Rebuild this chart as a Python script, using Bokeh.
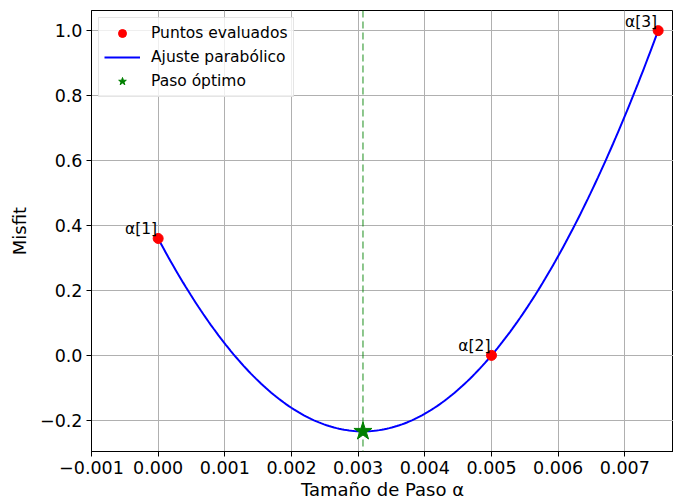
import numpy as np
from bokeh.plotting import figure
from bokeh.models import (ColumnDataSource, FixedTicker, Span, Legend, LegendItem, Label)
from bokeh.embed import file_html
from bokeh.resources import INLINE

# ---- data ----
alpha_pts = [0.0, 0.005, 0.0075]
misfit_pts = [0.36, 0.0, 1.0]
point_labels = ["α[1]", "α[2]", "α[3]"]

x_ticks = [-0.001, 0.0, 0.001, 0.002, 0.003, 0.004, 0.005, 0.006, 0.007]
x_tick_labels = ["−0.001", "0.000", "0.001", "0.002", "0.003", "0.004", "0.005", "0.006", "0.007"]
y_ticks = [-0.2, 0.0, 0.2, 0.4, 0.6, 0.8, 1.0]
y_tick_labels = ["−0.2", "0.0", "0.2", "0.4", "0.6", "0.8", "1.0"]

# parabolic fit through the evaluated points
coef = np.polyfit(alpha_pts, misfit_pts, 2)
xs = np.linspace(min(alpha_pts), max(alpha_pts), 200)
ys = np.polyval(coef, xs)
x_opt = -coef[1] / (2 * coef[0])
y_opt = np.polyval(coef, x_opt)

FONT = "DejaVu Sans"

p = figure(width=673, height=502, output_backend="svg", toolbar_location=None,
           x_range=(-0.001, 0.00773), y_range=(-0.296, 1.062),
           min_border_left=91, min_border_right=0, min_border_top=10, min_border_bottom=50)
p.background_fill_color = "white"
p.border_fill_color = "white"
p.outline_line_color = "black"
p.outline_line_width = 1

for ax in (p.xaxis[0], p.yaxis[0]):
    ax.major_label_text_font = FONT
    ax.major_label_text_font_size = "17.5px"
    ax.major_label_text_color = "black"
    ax.axis_label_text_font = FONT
    ax.axis_label_text_font_size = "18px"
    ax.axis_label_text_font_style = "normal"
    ax.axis_label_text_color = "black"
    ax.major_tick_out = 5
    ax.major_tick_in = 0
    ax.minor_tick_out = 0
    ax.minor_tick_in = 0
    ax.axis_line_color = "black"
    ax.major_tick_line_color = "black"

p.xaxis.ticker = FixedTicker(ticks=x_ticks)
p.xaxis.major_label_overrides = {t: l for t, l in zip(x_ticks, x_tick_labels)}
p.yaxis.ticker = FixedTicker(ticks=y_ticks)
p.yaxis.major_label_overrides = {t: l for t, l in zip(y_ticks, y_tick_labels)}
p.xaxis.axis_label = "Tamaño de Paso α"
p.yaxis.axis_label = "Misfit"
p.xaxis.major_label_standoff = 4
p.xaxis.axis_label_standoff = 2
p.yaxis.major_label_standoff = 4
p.yaxis.axis_label_standoff = 7

p.xgrid.grid_line_color = "#b0b0b0"
p.ygrid.grid_line_color = "#b0b0b0"
p.xgrid.grid_line_width = 1
p.ygrid.grid_line_width = 1

# optimal step vertical line
p.add_layout(Span(location=x_opt, dimension="height", line_color="green",
                  line_alpha=0.6, line_width=1.5, line_dash="7 4"))

pts_src = ColumnDataSource(dict(x=alpha_pts, y=misfit_pts, lab=point_labels))
curve_src = ColumnDataSource(dict(x=xs, y=ys))

r_curve = p.line("x", "y", source=curve_src, line_color="blue", line_width=2)
r_pts = p.scatter("x", "y", source=pts_src, marker="circle", size=10,
                  fill_color="red", line_color="red")
r_star = p.scatter([x_opt], [y_opt], marker="star", size=19,
                   fill_color="green", line_color="green")

for xv, yv, lab in zip(alpha_pts, misfit_pts, point_labels):
    p.add_layout(Label(x=xv, y=yv, text=lab, text_align="right", text_baseline="bottom",
                       text_font=FONT, text_font_size="15.5px", text_color="black",
                       x_offset=-1, y_offset=0))

legend = Legend(items=[
    LegendItem(label="Puntos evaluados", renderers=[r_pts]),
    LegendItem(label="Ajuste parabólico", renderers=[r_curve]),
    LegendItem(label="Paso óptimo", renderers=[r_star]),
], location="top_left")
legend.label_text_font = FONT
legend.label_text_font_size = "15.5px"
legend.label_text_color = "black"
legend.label_height = 20
legend.glyph_height = 20
legend.glyph_width = 36
legend.spacing = 4
legend.padding = 5
legend.margin = 7
legend.label_standoff = 11
legend.border_line_color = "#cccccc"
legend.border_line_width = 1
legend.background_fill_alpha = 0.8
p.add_layout(legend)

open("out.html", "w").write(file_html(p, INLINE))
